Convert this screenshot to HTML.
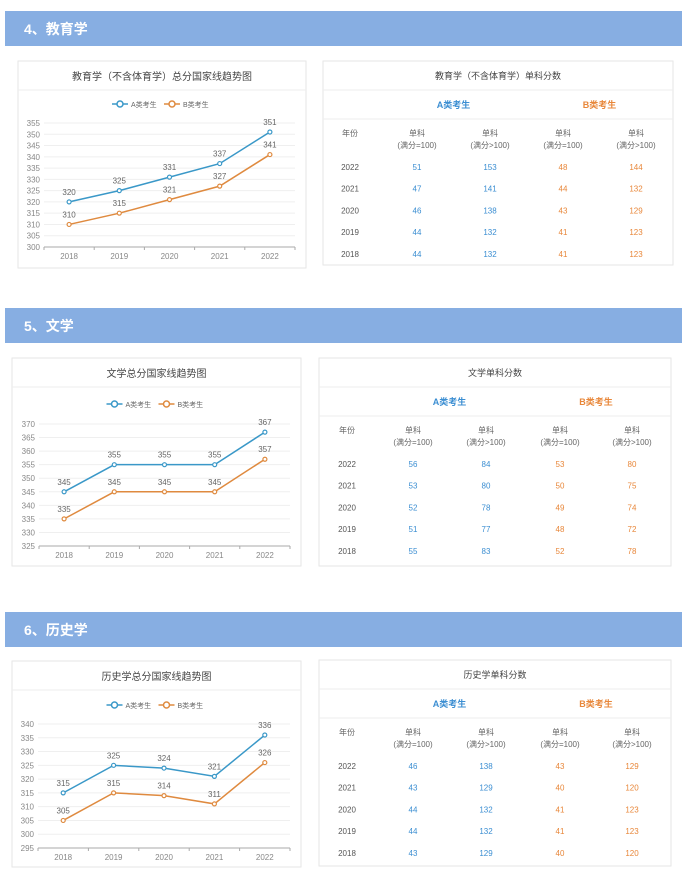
<!DOCTYPE html>
<html><head><meta charset="utf-8"><style>
body{margin:0;background:#fff;width:685px;height:873px;overflow:hidden;font-family:"Liberation Sans","Noto Sans CJK SC",sans-serif;}
svg text{font-family:"Liberation Sans","Noto Sans CJK SC",sans-serif;}
</style></head><body>
<svg id="page" width="685" height="873" viewBox="0 0 685 873" xmlns="http://www.w3.org/2000/svg"></svg>
<script>
// ---- data ----
const years = ["2018","2019","2020","2021","2022"];
const eduA = [320,325,331,337,351];
const eduB = [310,315,321,327,341];
const eduTicks = [300,305,310,315,320,325,330,335,340,345,350,355];
const litA = [345,355,355,355,367];
const litB = [335,345,345,345,357];
const litTicks = [325,330,335,340,345,350,355,360,365,370];
const hisA = [315,325,324,321,336];
const hisB = [305,315,314,311,326];
const hisTicks = [295,300,305,310,315,320,325,330,335,340];
const tableYears = ["2022","2021","2020","2019","2018"];
const eduTable = [[51,153,48,144],[47,141,44,132],[46,138,43,129],[44,132,41,123],[44,132,41,123]];
const litTable = [[56,84,53,80],[53,80,50,75],[52,78,49,74],[51,77,48,72],[55,83,52,78]];
const hisTable = [[46,138,43,129],[43,129,40,120],[44,132,41,123],[44,132,41,123],[43,129,40,120]];

const NS="http://www.w3.org/2000/svg";
const svg=document.getElementById('page');
const CA="#3a98c8", CB="#df8a3f", TA="#3b8ed2", TB="#e8873a";
function mk(tag,attrs,parent,txt){const e=document.createElementNS(NS,tag);for(const k in attrs)e.setAttribute(k,attrs[k]);if(txt!==undefined)e.textContent=txt;(parent||svg).appendChild(e);return e;}

function section(o){
  const g=mk('g',{});
  
  
  const bar=mk('rect',{x:5,y:o.barY,width:677,height:35,fill:'#87aee2'},g);
  
  
  const ht=mk('text',{x:24,y:o.barY+23,'font-size':14,'font-weight':'bold',fill:'#fff'},g,o.heading);
  
  

  // chart card
  const c=o.chart;
  const card=mk('rect',{x:c.x,y:c.y,width:c.w,height:c.h,fill:'#fff',stroke:'#e6e6e6'},g);
  
  
  mk('line',{x1:c.x,x2:c.x+c.w,y1:c.y+29,y2:c.y+29,stroke:'#eeeeee'},g);
  const ct=mk('text',{x:c.x+c.w/2,y:c.y+19,'font-size':10,fill:'#444','text-anchor':'middle'},g,o.chartTitle);
  
  
  // legend
  const lx=c.x+c.w/2, ly=c.legY;
  [[CA,'A类考生',lx-50],[CB,'B类考生',lx+2]].forEach(([col,lab,x0],i)=>{
    const lg=mk('g',{},g);
    
    
    mk('line',{x1:x0,x2:x0+16,y1:ly,y2:ly,stroke:col,'stroke-width':1.5},lg);
    mk('circle',{cx:x0+8,cy:ly,r:3,fill:'#fff',stroke:col,'stroke-width':1.5},lg);
    mk('text',{x:x0+19,y:ly+3,'font-size':7,fill:'#666'},lg,lab);
  });
  const ticks=o.ticks, mn=ticks[0], mx=ticks[ticks.length-1];
  const yS=v=>c.bot-(v-mn)/(mx-mn)*(c.bot-c.top);
  const band=(c.right-c.left)/years.length;
  const xS=i=>c.left+band*(i+0.5);
  ticks.forEach((t,i)=>{
    if(i>0) mk('line',{x1:c.left,x2:c.right,y1:yS(t),y2:yS(t),stroke:'#efefef'},g);
    const tl=mk('text',{x:c.left-4,y:yS(t)+3,'font-size':8,fill:'#888','text-anchor':'end'},g,t);
    
    
  });
  const ax=mk('line',{x1:c.left,x2:c.right,y1:c.bot,y2:c.bot,stroke:'#aaa'},g);
  
  
  years.forEach((y,i)=>{
    mk('line',{x1:c.left+band*i,x2:c.left+band*i,y1:c.bot,y2:c.bot+3,stroke:'#aaa'},g);
    const xl=mk('text',{x:xS(i),y:c.bot+12,'font-size':8,fill:'#888','text-anchor':'middle'},g,y);
    
    
  });
  mk('line',{x1:c.right,x2:c.right,y1:c.bot,y2:c.bot+3,stroke:'#aaa'},g);
  [[o.A,CA,'a'],[o.B,CB,'b']].forEach(([arr,col,s])=>{
    const pl=mk('polyline',{points:arr.map((v,i)=>xS(i)+','+yS(v)).join(' '),fill:'none',stroke:col,'stroke-width':1.5},g);
    
    
    arr.forEach((v,i)=>{
      const p=mk('circle',{cx:xS(i),cy:yS(v),r:2,fill:'#fff',stroke:col,'stroke-width':1.2},g);
      
      
      const vl=mk('text',{x:xS(i),y:yS(v)-7,'font-size':8,fill:'#666','text-anchor':'middle'},g,v);
      
      
    });
  });

  // table card
  const t=o.table;
  const tc=mk('rect',{x:t.x,y:t.y,width:t.w,height:t.h,fill:'#fff',stroke:'#e6e6e6'},g);
  
  
  const tt=mk('text',{x:t.x+t.w/2,y:t.y+18,'font-size':9,fill:'#444','text-anchor':'middle'},g,o.tableTitle);
  
  
  mk('line',{x1:t.x,x2:t.x+t.w,y1:t.y+29,y2:t.y+29,stroke:'#eeeeee'},g);
  mk('line',{x1:t.x,x2:t.x+t.w,y1:t.y+58,y2:t.y+58,stroke:'#eeeeee'},g);
  const cols=t.cols;
  const ha=mk('text',{x:(cols[1]+cols[2])/2,y:t.y+47,'font-size':9,'font-weight':'bold',fill:TA,'text-anchor':'middle'},g,'A类考生');
  
  
  const hb=mk('text',{x:(cols[3]+cols[4])/2,y:t.y+47,'font-size':9,'font-weight':'bold',fill:TB,'text-anchor':'middle'},g,'B类考生');
  
  
  mk('text',{x:cols[0],y:t.y+75,'font-size':8,fill:'#666','text-anchor':'middle'},g,'年份');
  ['(满分=100)','(满分>100)','(满分=100)','(满分>100)'].forEach((s,i)=>{
    mk('text',{x:cols[i+1],y:t.y+75,'font-size':8,fill:'#666','text-anchor':'middle'},g,'单科');
    mk('text',{x:cols[i+1],y:t.y+87,'font-size':8,fill:'#666','text-anchor':'middle'},g,s);
  });
  tableYears.forEach((y,r)=>{
    const ry=t.y+109+r*21.7;
    mk('text',{x:cols[0],y:ry,'font-size':8,fill:'#555','text-anchor':'middle'},g,y);
    o.rows[r].forEach((v,k)=>{
      const cell=mk('text',{x:cols[k+1],y:ry,'font-size':8,fill:k<2?TA:TB,'text-anchor':'middle'},g,v);
      
      
    });
  });
}

section({key:'education',barY:11,heading:'4、教育学',chartTitle:'教育学（不含体育学）总分国家线趋势图',tableTitle:'教育学（不含体育学）单科分数',
  chart:{x:18,y:61,w:288,h:207,legY:104,left:44,right:295,top:123,bot:247},ticks:eduTicks,A:eduA,B:eduB,
  table:{x:323,y:61,w:350,h:204,cols:[350,417,490,563,636]},rows:eduTable});
section({key:'literature',barY:308,heading:'5、文学',chartTitle:'文学总分国家线趋势图',tableTitle:'文学单科分数',
  chart:{x:12,y:358,w:289,h:208,legY:404,left:39,right:290,top:424,bot:546},ticks:litTicks,A:litA,B:litB,
  table:{x:319,y:358,w:352,h:208,cols:[347,413,486,560,632]},rows:litTable});
section({key:'history',barY:612,heading:'6、历史学',chartTitle:'历史学总分国家线趋势图',tableTitle:'历史学单科分数',
  chart:{x:12,y:661,w:289,h:206,legY:705,left:38,right:290,top:724,bot:848},ticks:hisTicks,A:hisA,B:hisB,
  table:{x:319,y:660,w:352,h:206,cols:[347,413,486,560,632]},rows:hisTable});
</script>
</body></html>
